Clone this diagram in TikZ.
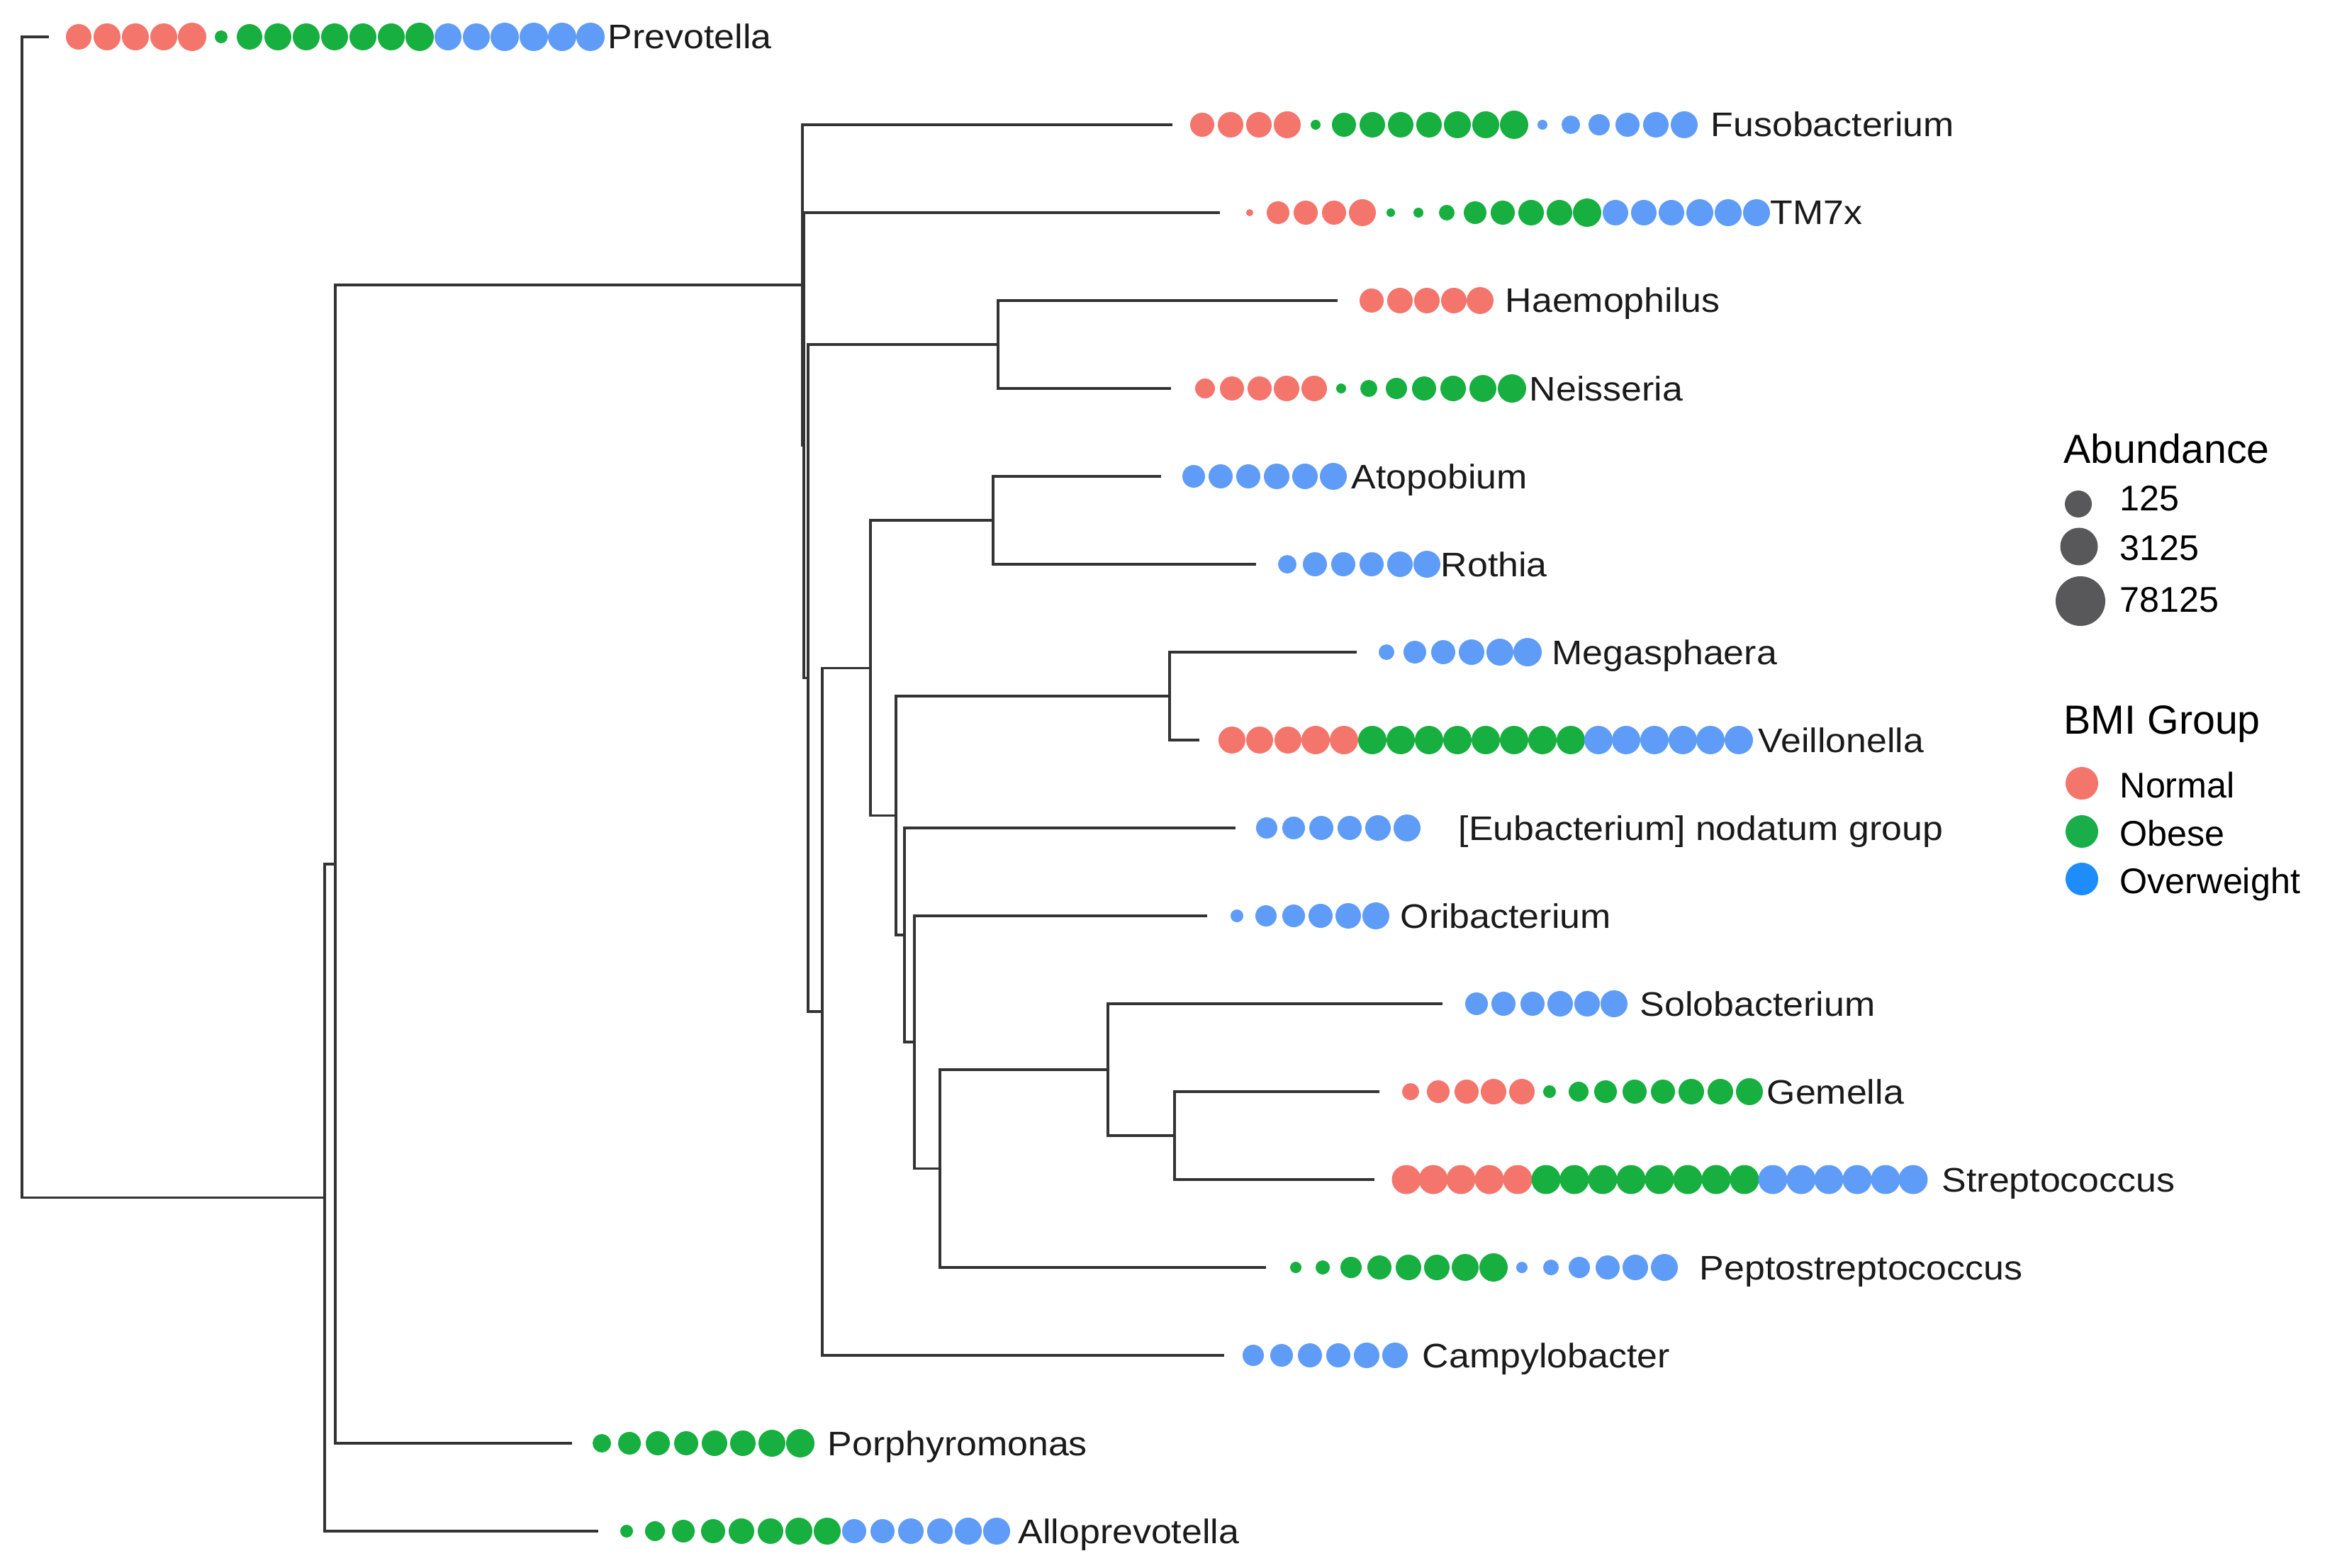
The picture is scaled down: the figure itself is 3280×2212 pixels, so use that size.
\documentclass[tikz,border=0pt]{standalone}
\usepackage{fontspec}
\setmainfont{Liberation Sans}
\newfontfamily\labfont[FakeStretch=1.08]{Liberation Sans}
\definecolor{cN}{HTML}{F4756C}
\definecolor{cO}{HTML}{17AF3F}
\definecolor{cW}{HTML}{5F9CF7}
\definecolor{lN}{HTML}{F4756C}
\definecolor{lO}{HTML}{1AAE4B}
\definecolor{lW}{HTML}{1E8CFA}
\definecolor{greyc}{HTML}{58585A}
\definecolor{branchc}{HTML}{333333}
\definecolor{txtc}{HTML}{1A1A1A}
\newcommand\dotrow[2]{\foreach \xx/\rr/\cc in {#2}{\fill[fill=\cc] (\xx,#1) circle[radius=\rr*0.01cm];}}
\tikzset{
  branch/.style={draw=branchc, line width=1pt},
  taxlab/.style={anchor=base west, inner sep=0pt, text=txtc, font=\labfont\fontsize{13.66pt}{16pt}\selectfont},
  legtitle/.style={anchor=base west, inner sep=0pt, text=black, font=\fontsize{16.3pt}{19pt}\selectfont},
  legtext/.style={anchor=base west, inner sep=0pt, text=black, font=\fontsize{14.3pt}{17pt}\selectfont}
}
\begin{document}
\begin{tikzpicture}[x=0.01cm,y=-0.01cm]
\useasboundingbox (0,0) rectangle (3280,2212);
\fill[white] (0,0) rectangle (3280,2212);
% leaf tips
\coordinate (tPrev) at (69,52);
\coordinate (tFuso) at (1654,176);
\coordinate (tTM7) at (1721,300);
\coordinate (tHaem) at (1887,424);
\coordinate (tNeis) at (1652,548);
\coordinate (tAtop) at (1638,672);
\coordinate (tRoth) at (1772,796);
\coordinate (tMega) at (1914,920);
\coordinate (tVeil) at (1692,1044);
\coordinate (tEub) at (1743,1168);
\coordinate (tOri) at (1703,1292);
\coordinate (tSolo) at (2035,1416);
\coordinate (tGem) at (1946,1540);
\coordinate (tStrep) at (1939,1664);
\coordinate (tPep) at (1786,1788);
\coordinate (tCamp) at (1727,1912);
\coordinate (tPorph) at (807,2036);
\coordinate (tAllo) at (844,2160);
% internal nodes
\coordinate (R) at (31,870.8);
\coordinate (S) at (458,1689.5);
\coordinate (T) at (473,1219);
\coordinate (A) at (1132,402.1);
\coordinate (B) at (1134,628.3);
\coordinate (C) at (1140,956.6);
\coordinate (D) at (1408,486);
\coordinate (E) at (1160,1427.2);
\coordinate (F) at (1228,942.3);
\coordinate (G) at (1401,734);
\coordinate (H) at (1264,1150.6);
\coordinate (I) at (1650,982);
\coordinate (J) at (1276,1319.1);
\coordinate (K) at (1290,1470.25);
\coordinate (L) at (1326,1648.5);
\coordinate (M) at (1563,1509);
\coordinate (N) at (1657,1602);
% branches
\foreach \p/\c in {R/tPrev,R/S,S/T,S/tAllo,T/A,T/tPorph,A/tFuso,A/B,B/tTM7,B/C,C/D,C/E,
  D/tHaem,D/tNeis,E/F,E/tCamp,F/G,F/H,G/tAtop,G/tRoth,H/I,H/J,I/tMega,I/tVeil,
  J/tEub,J/K,K/tOri,K/L,L/M,L/tPep,M/tSolo,M/N,N/tGem,N/tStrep}
  {\draw[branch] (\p) |- (\c);}
% dots
\dotrow{52}{111/18/cN,151/19/cN,191/19/cN,231/19/cN,271/20/cN,312/9/cO,352/18/cO,392/19/cO,432/19/cO,472/19/cO,512/19/cO,552/19/cO,592/20/cO,632/19/cW,672/19/cW,712/20/cW,753/20/cW,793/20/cW,833/20/cW}
\dotrow{176}{1696/17/cN,1736/18/cN,1776/18/cN,1816/19/cN,1856/7/cO,1896/17/cO,1936/18/cO,1976/18/cO,2016/18/cO,2056/19/cO,2096/19/cO,2136/20/cO,2176/7/cW,2216/13/cW,2256/15/cW,2296/17/cW,2336/18/cW,2376/19/cW}
\dotrow{300}{1763/5/cN,1803/16/cN,1842/17/cN,1882/17/cN,1922/19/cN,1962/6/cO,2001/7/cO,2041/11/cO,2081/16/cO,2120/17/cO,2160/18/cO,2200/18/cO,2239/20/cO,2279/18/cW,2319/18/cW,2358/18/cW,2398/19/cW,2438/19/cW,2478/19/cW}
\dotrow{424}{1935/17/cN,1975/18/cN,2013/18/cN,2051/18/cN,2088/19/cN}
\dotrow{548}{1700/14/cN,1738/17/cN,1777/17/cN,1815/18/cN,1854/18/cN,1892/7/cO,1931/12/cO,1970/15/cO,2009/17/cO,2050/18/cO,2092/19/cO,2133/20/cO}
\dotrow{672}{1684/16/cW,1722/17/cW,1761/17/cW,1801/18/cW,1841/18/cW,1881/19/cW}
\dotrow{796}{1816/13/cW,1855/17/cW,1895/17/cW,1935/17/cW,1975/18/cW,2013/19/cW}
\dotrow{920}{1956/11/cW,1996/16/cW,2036/17/cW,2076/18/cW,2116/19/cW,2155/20/cW}
\dotrow{1044}{1738/19/cN,1777/19/cN,1817/19/cN,1856/20/cN,1896/20/cN,1936/20/cO,1976/20/cO,2016/20/cO,2056/20/cO,2096/20/cO,2136/20/cO,2176/20/cO,2216/20/cO,2255/20/cW,2294/20/cW,2334/20/cW,2374/20/cW,2413/20/cW,2453/20/cW}
\dotrow{1168}{1787/15/cW,1825/16/cW,1864/17/cW,1904/17/cW,1944/18/cW,1985/19/cW}
\dotrow{1292}{1745/9/cW,1786/15/cW,1825/16/cW,1863/17/cW,1902/18/cW,1941/19/cW}
\dotrow{1416}{2083/16/cW,2121/17/cW,2162/17/cW,2201/18/cW,2239/18/cW,2277/19/cW}
\dotrow{1540}{1990/12/cN,2029/16/cN,2069/17/cN,2107/18/cN,2147/18/cN,2186/9/cO,2227/14/cO,2265/16/cO,2306/17/cO,2346/17/cO,2386/18/cO,2427/18/cO,2468/19/cO}
\dotrow{1664}{1984/20.5/cN,2022/20.5/cN,2061/20.5/cN,2101/20.5/cN,2141/20.5/cN,2181/20.5/cO,2221/20.5/cO,2261/20.5/cO,2301/20.5/cO,2341/20.5/cO,2381/20.5/cO,2421/20.5/cO,2461/20.5/cO,2501/20.5/cW,2541/20.5/cW,2580/20.5/cW,2620/20.5/cW,2660/20.5/cW,2699/20.5/cW}
\dotrow{1788}{1828/8/cO,1866/10/cO,1906/15/cO,1946/17/cO,1987/18/cO,2027/18/cO,2067/19/cO,2107/20/cO,2147/8/cW,2188/11/cW,2228/15/cW,2268/17/cW,2307/18/cW,2348/19/cW}
\dotrow{1912}{1768/15/cW,1808/16/cW,1848/17/cW,1888/17/cW,1928/18/cW,1968/18/cW}
\dotrow{2036}{849/13/cO,888/16/cO,928/17/cO,968/17/cO,1008/18/cO,1048/18/cO,1089/19/cO,1129/20/cO}
\dotrow{2160}{884/9/cO,924/14/cO,964/16/cO,1006/17/cO,1046/18/cO,1087/18/cO,1127/19/cO,1167/19/cO,1205/17/cW,1245/17/cW,1285/18/cW,1326/18/cW,1366/19/cW,1406/19/cW}
% labels
\node[taxlab] (lPrev) at (857,69) {Prevotella};
\node[taxlab] (lFuso) at (2413,193) {Fusobacterium};
\node[taxlab] (lTM7) at (2497,317) {TM7x};
\node[taxlab] (lHaem) at (2123,441) {Haemophilus};
\node[taxlab] (lNeis) at (2157,565) {Neisseria};
\node[taxlab] (lAtop) at (1906,689) {Atopobium};
\node[taxlab] (lRoth) at (2032,813) {Rothia};
\node[taxlab] (lMega) at (2189,937) {Megasphaera};
\node[taxlab] (lVeil) at (2480,1061) {Veillonella};
\node[taxlab] (lEub) at (2057,1185) {[Eubacterium] nodatum group};
\node[taxlab] (lOri) at (1975,1309) {Oribacterium};
\node[taxlab] (lSolo) at (2313,1433) {Solobacterium};
\node[taxlab] (lGem) at (2492,1557) {Gemella};
\node[taxlab] (lStrep) at (2739,1681) {Streptococcus};
\node[taxlab] (lPep) at (2397,1805) {Peptostreptococcus};
\node[taxlab] (lCamp) at (2006,1929) {Campylobacter};
\node[taxlab] (lPorph) at (1167,2053) {Porphyromonas};
\node[taxlab] (lAllo) at (1436,2177) {Alloprevotella};
% legend
\node[legtitle] (abt) at (2911,653) {Abundance};
\fill[greyc] (2932,711) circle[radius=0.19cm];
\fill[greyc] (2933,771) circle[radius=0.265cm];
\fill[greyc] (2935,848) circle[radius=0.35cm];
\node[legtext] (a1) at (2990,720) {125};
\node[legtext] (a2) at (2990,790) {3125};
\node[legtext] (a3) at (2990,863) {78125};
\node[legtitle] (bmt) at (2911,1035) {BMI Group};
\fill[lN] (2937,1105) circle[radius=0.23cm];
\fill[lO] (2937,1173) circle[radius=0.23cm];
\fill[lW] (2937,1240) circle[radius=0.23cm];
\node[legtext] (g1) at (2990,1125) {Normal};
\node[legtext] (g2) at (2990,1193) {Obese};
\node[legtext] (g3) at (2990,1260) {Overweight};
\end{tikzpicture}
\end{document}
